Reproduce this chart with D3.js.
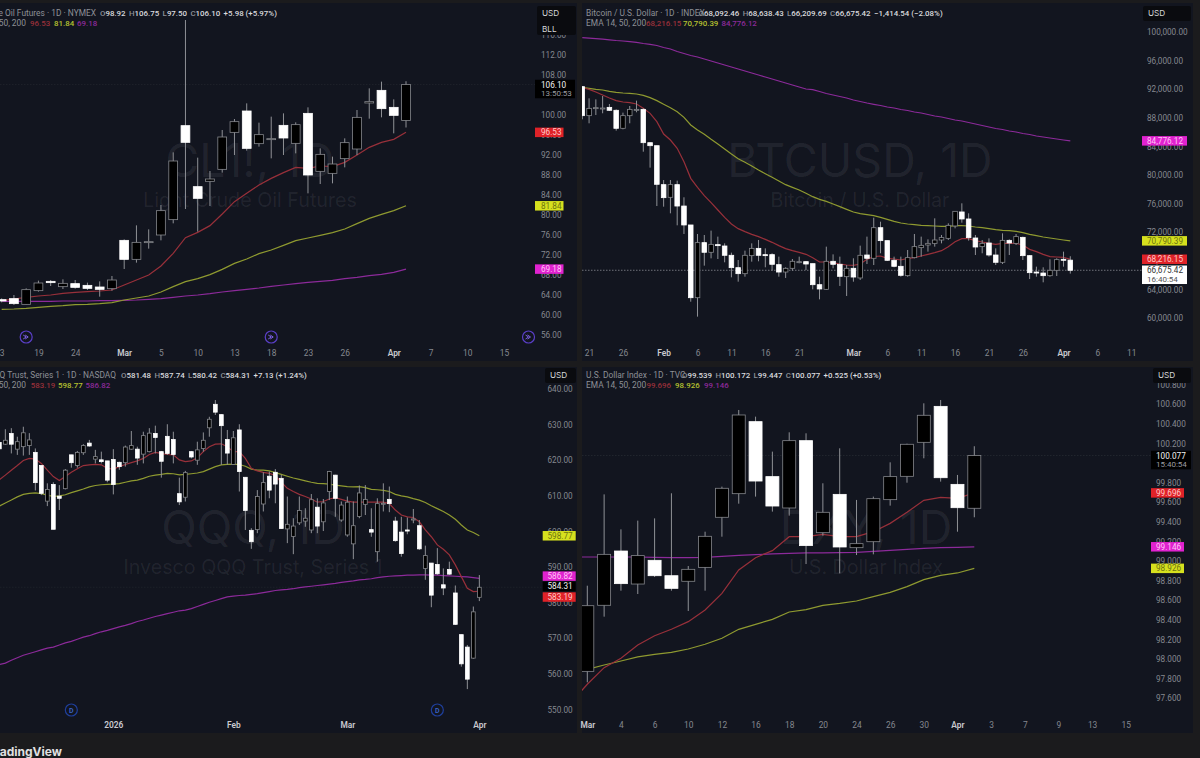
<!DOCTYPE html>
<html>
<head>
<meta charset="utf-8">
<script src="https://cdn.jsdelivr.net/npm/d3@7"></script>
<style>
  html, body { margin: 0; padding: 0; background: #1b1b1d; overflow: hidden; }
  text { font-family: Roboto, "Noto Sans", sans-serif; }
</style>
</head>
<body>
<div id="chart"></div>
<script>
// [open, high, low, close]
const clBars = [[63.07,63.33,62.53,62.80],[63.27,64.00,62.00,62.27],[62.13,65.33,62.13,65.07],[64.87,66.87,64.67,66.40],[66.73,67.00,65.80,66.47],[65.67,67.13,65.20,66.33],[66.27,67.00,65.27,65.53],[65.93,66.47,65.00,65.33],[65.60,66.73,63.67,65.13],[65.27,67.80,64.87,67.00],[74.93,75.13,69.20,71.13],[71.13,77.93,70.47,74.53],[74.53,77.13,73.27,74.67],[76.00,82.00,74.93,80.87],[79.07,92.53,78.33,90.80],[97.87,119.00,81.20,94.53],[85.67,91.47,76.67,83.33],[86.73,88.80,81.80,87.20],[89.13,97.00,88.47,95.60],[96.53,99.20,92.00,98.67],[100.80,102.33,92.87,93.33],[94.27,98.47,93.67,96.07],[95.13,99.67,91.33,95.27],[97.93,100.33,92.00,95.40],[94.33,98.53,92.33,98.07],[100.33,101.53,84.33,88.00],[88.73,93.33,86.20,92.13],[88.33,91.67,86.33,90.20],[91.27,95.33,89.53,94.47],[93.20,101.00,92.00,99.53],[102.40,105.33,99.27,102.67],[104.93,106.67,99.53,101.27],[101.53,103.13,96.33,99.93],[98.92,106.75,97.50,106.10]];
const clEma14 = [62.87,63.20,63.53,63.80,64.00,64.33,64.53,64.67,64.80,65.00,66.00,67.00,68.00,69.80,72.33,75.47,76.53,77.87,80.20,82.67,84.33,86.00,87.33,88.47,89.53,89.33,89.80,89.67,90.53,92.00,93.53,94.53,95.13,96.53];
const clEma50 = [61.13,61.20,61.33,61.53,61.73,61.87,62.07,62.13,62.27,62.47,63.00,63.40,63.80,64.60,65.67,66.67,67.27,68.07,69.13,70.33,71.20,72.27,73.00,73.93,74.87,75.40,75.93,76.47,77.20,78.27,79.33,80.13,80.87,81.84];
const clEma200 = [62.73,62.73,62.73,62.73,62.73,62.80,62.80,62.80,62.87,62.87,62.93,63.00,63.13,63.27,63.53,63.80,64.00,64.27,64.60,64.87,65.13,65.40,65.73,66.00,66.27,66.53,66.73,66.93,67.27,67.53,67.87,68.13,68.53,69.18];
const clTicks = [116,112,108,104,100,96,92,88,84,80,76,72,68,64,60,56];
const clDateIdx = [0,3,6,10,13,16,19,22,25,28,32,35,38,41];
const clDates = ["3","19","24","Mar","5","10","13","18","23","26","Apr","7","10","15"];

const btcBars = [[92355,92450,87790,88300],[88300,90720,87230,89320],[89280,90580,88390,89420],[89280,91050,88630,89370],[89460,89930,88950,89050],[89050,89180,86200,86530],[86530,88720,86390,88300],[88300,89650,87230,89180],[89090,90400,88770,89180],[89180,89320,83260,84520],
[84520,84520,81030,84100],[84100,84100,75660,78700],[78650,79300,75570,76830],[76880,79300,74640,78650],[78650,79210,72960,75660],[75660,76880,71750,73010],[73010,73010,62280,62840],[62840,71750,60190,70540],[70540,71610,67320,69190],[69190,72220,68340,70300],
[70260,71380,68250,70120],[70070,70440,67790,68770],[68770,69140,65690,67040],[67040,68110,65080,66200],[66200,69420,65780,68770],[68720,70440,67880,69740],[69740,70910,67930,68770],[68860,69740,67090,68770],[68860,69050,66620,67510],[67460,68580,65780,66430],
[66430,67090,65600,66950],[66950,68250,66620,67930],[67790,68580,67650,67880],[67880,67970,66710,67550],[67600,67600,64010,64660],[64660,65780,62610,64060],[64010,69980,63920,67930],[67930,68900,66950,67510],[67510,68580,64480,65830],[65780,67410,63080,66950],
[66950,68350,65080,65730],[65600,70120,65320,68770],[68810,71380,67550,68350],[68350,74030,67410,72630],[72630,73470,69050,70820],[70820,70820,67970,68070],[68070,68580,67090,67230],[67230,68580,65780,65970],[65920,69510,65780,68440],[68440,71750,68350,69980],
[69840,71380,68580,70160],[70210,71000,69280,70440],[70440,73940,69980,70910],[70910,71610,70440,71240],[71140,73240,70910,72960],[72870,74920,72540,74920],[74830,76040,73330,73850],[73850,74640,70820,71240],[71190,71610,68810,69930],[69980,70910,69050,70440],
[70490,71140,68580,68810],[68810,69740,67410,67790],[67790,71840,67550,70860],[70860,71000,68810,70490],[70440,71750,70210,71380],[71280,71380,68110,68720],[68720,68810,65450,66340],[66430,67180,65780,66290],[66290,67090,64990,65920],[65920,68210,65780,66670],
[66670,68350,65870,68160],[68210,69280,67180,68070],[68092.46,68638.43,66209.69,66675.42]];
const btcEma14 = [92261,91982,91609,91189,90770,90397,90210,90117,89930,89324,88625,87460,85735,84895,83730,81865,79534,78275,77110,76131,75105,74080,73147,72494,72075,71702,71376,71002,70583,70117,69697,69418,69185,68905,68439,67833,67833,67739,67553,67413,67367,67553,68206,68578,68671,68345,68252,68112,68345,68439,68671,68905,69138,69418,69977,70676,71095,71095,70816,70629,70443,70303,70443,70443,70443,70210,69604,69278,68905,68578,68531,68485,68216];
const btcEma50 = [92261,92122,91982,91888,91702,91562,91469,91422,91329,91142,90816,90397,89884,89418,88858,88066,86993,86294,85688,84989,84336,83637,82937,82285,81772,81259,80700,80187,79674,79161,78648,78275,77902,77436,76970,76597,76317,75944,75571,75198,74826,74592,74452,74313,74080,73800,73520,73287,73147,73054,72961,72914,72868,72821,72821,72914,72914,72868,72728,72634,72494,72355,72261,72215,72122,71936,71702,71516,71329,71190,71050,70910,70790];
const btcEma200 = [99203,99133,99063,98993,98909,98811,98741,98643,98545,98392,98266,98112,97832,97622,97273,96993,96713,96503,96224,95944,95664,95385,95105,94825,94545,94266,93986,93706,93427,93147,92867,92587,92308,92028,91930,91678,91399,91189,90979,90769,90490,90280,90070,89888,89720,89510,89370,89161,89021,88811,88671,88462,88252,88112,87902,87692,87552,87343,87133,86923,86713,86503,86364,86154,86014,85804,85664,85455,85315,85175,85035,84895,84776];
const btcTicks = [100000,96000,92000,88000,84000,80000,76000,72000,68000,64000,60000];
const btcDateIdx = [1,6,12,17,22,27,32,40,45,50,55,60,65,71,76,81];
const btcDates = ["21","26","Feb","6","11","16","21","Mar","6","11","16","21","26","Apr","6","11"];

const qqqBars = [[625.0,626.6,622.9,623.2],[624.5,628.7,624.3,625.6],[627.5,629.0,621.9,624.5],[623.1,626.6,621.5,625.2],[623.8,629.4,621.3,627.7],[624.1,627.6,621.5,625.7],[622.2,623.3,611.5,613.7],[618.5,618.5,610.2,610.7],[608.5,613.5,607.1,611.8],[613.2,613.8,600.6,600.6],
[609.9,613.0,606.0,609.3],[612.0,617.5,611.8,617.2],[621.5,621.5,617.9,619.3],[618.5,622.6,617.9,622.2],[622.1,624.5,621.5,624.1],[624.8,625.7,623.8,624.0],[620.3,622.9,619.1,621.0],[620.1,622.4,619.1,619.6],[619.8,619.8,613.8,614.4],[620.2,623.1,610.4,613.2],
[619.4,619.6,617.3,618.2],[619.3,624.1,618.2,623.7],[623.1,628.2,622.9,624.1],[623.1,623.8,618.7,620.6],[621.7,628.0,619.1,626.9],[622.4,629.0,622.2,627.6],[627.5,629.7,621.9,626.4],[622.4,622.6,615.1,619.7],[626.7,630.1,621.5,621.9],[625.8,628.0,619.1,621.6],
[610.6,615.1,607.4,608.3],[609.6,617.0,608.4,616.5],[622.4,622.6,620.5,620.9],[620.0,625.2,618.7,622.9],[623.3,627.8,622.4,625.6],[629.1,632.2,626.6,631.5],[635.7,636.9,632.7,633.5],[632.8,632.9,618.7,629.7],[625.8,628.5,618.7,622.0],[618.8,628.2,618.7,626.3],
[628.5,630.1,611.2,616.8],[615.2,615.2,600.4,605.9],[600.3,600.9,595.1,597.1],[600.5,611.6,599.5,609.8],[607.7,616.6,605.6,613.7],[615.5,616.8,609.3,611.6],[616.6,617.5,607.9,613.3],[614.9,615.9,600.7,600.8],[600.7,609.8,596.7,602.0],[598.6,603.7,593.6,601.5],
[602.4,609.8,601.8,605.9],[602.9,606.5,601.3,603.7],[600.4,610.5,599.5,608.9],[606.8,609.3,599.5,601.5],[602.7,609.1,600.1,608.0],[611.2,617.0,608.8,616.8],[615.8,615.9,604.1,609.3],[603.2,608.4,602.7,607.4],[599.0,609.8,598.5,608.2],[596.5,608.4,592.2,601.6],
[604.2,612.9,603.7,610.8],[607.6,613.0,604.6,609.0],[600.5,606.5,598.5,599.8],[594.3,609.3,591.5,607.8],[607.7,613.5,605.6,607.9],[609.0,612.6,605.4,607.8],[602.9,604.1,597.1,597.4],[599.8,604.1,592.9,593.8],[600.4,603.9,599.2,600.1],[603.2,606.3,602.3,603.5],
[601.6,603.2,594.8,595.1],[589.6,596.0,586.4,593.2],[591.1,591.1,578.7,582.1],[590.7,595.3,587.8,588.1],[585.0,589.6,582.1,584.1],[589.3,591.5,587.8,588.0],[582.7,584.8,573.7,573.9],[571.0,571.0,562.0,562.8],[567.5,568.1,555.7,558.5],[564.4,578.9,564.2,577.4],
[581.48,587.74,580.42,584.31]];
const qqqEma14 = [614.5,615.8,617.2,618.5,619.9,620.5,620.3,619.1,617.2,615.4,614.3,615.4,616.6,617.6,618.5,618.7,618.8,618.7,617.7,617.5,618.2,618.8,619.3,619.8,620.5,621.6,622.2,621.9,621.6,621.5,620.1,619.6,619.8,620.7,622.4,623.8,624.5,624.6,623.8,622.4,622.4,620.5,617.7,617.0,616.6,616.3,615.7,613.8,612.1,611.2,610.4,609.8,609.1,608.2,608.4,609.1,609.5,609.0,608.5,608.2,608.2,608.2,608.2,608.2,608.2,607.8,606.0,604.6,604.1,603.9,602.7,600.4,598.5,596.2,595.0,593.4,590.6,587.3,584.0,583.1,583.19];
const qqqEma50 = [607.1,608.0,608.8,609.7,610.4,610.7,610.8,610.6,610.2,609.8,610.0,610.3,610.9,611.4,611.9,612.5,612.9,613.1,613.2,613.3,613.4,613.8,614.2,614.4,614.9,615.5,615.8,616.0,616.3,616.2,615.9,616.0,616.2,616.4,616.8,617.5,618.2,618.7,618.8,618.9,618.8,618.3,617.5,617.2,617.2,617.0,616.5,616.0,615.5,615.0,614.6,614.2,613.8,613.5,613.4,613.3,613.0,612.8,612.6,612.5,612.6,612.3,611.8,611.7,611.5,611.2,610.4,610.0,609.7,609.2,608.8,608.1,607.2,606.4,605.6,604.6,603.4,601.8,600.4,599.7,598.77];
const qqqEma200 = [562.6,563.0,563.8,564.5,565.2,565.7,566.2,566.7,567.2,567.5,568.1,568.7,569.1,569.7,570.3,570.7,571.3,571.8,572.2,572.7,573.2,573.6,574.1,574.7,575.1,575.6,576.1,576.5,576.9,577.3,577.7,577.9,578.3,578.9,579.5,580.1,580.6,581.1,581.6,581.8,582.0,582.1,582.3,582.5,582.8,583.1,583.4,583.6,583.7,583.9,584.2,584.4,584.6,584.8,585.0,585.2,585.4,585.7,585.9,586.1,586.4,586.5,586.7,587.0,587.2,587.4,587.5,587.6,587.7,587.7,587.8,587.8,587.7,587.7,587.6,587.5,587.4,587.3,587.2,587.0,586.82];
const qqqTicks = [640,630,620,610,600,590,580,570,560,550];
const qqqDateIdx = [19,39,58,80];
const qqqDates = ["2026","Feb","Mar","Apr"];

const dxyBars = [[97.875,98.749,97.763,98.545],[98.549,99.681,98.433,99.069],[99.103,99.324,98.698,98.770],[98.766,99.413,98.664,99.056],[99.008,99.436,98.838,98.851],[98.851,99.692,98.698,98.722],[98.794,98.950,98.491,98.916],[98.936,99.300,98.698,99.253],[99.447,99.760,99.249,99.743],[99.688,100.542,99.586,100.491],[100.423,100.474,99.658,99.817],[99.862,100.117,99.505,99.562],[99.542,100.314,99.464,100.229],[100.229,100.304,98.970,99.158],[99.290,99.794,99.260,99.498],[99.681,100.151,98.875,99.144],[99.137,99.624,99.062,99.178],[99.198,99.658,99.069,99.637],[99.627,100.008,99.566,99.862],[99.865,100.198,99.800,100.192],[100.212,100.610,100.049,100.488],[100.579,100.644,99.811,99.851],[99.783,99.879,99.300,99.545],[99.539,100.172,99.447,100.077]];
// the dxy averages start one session before the first bar on screen
const dxyEma14 = [97.549,97.743,97.913,98.008,98.144,98.239,98.304,98.382,98.501,98.671,98.909,99.035,99.107,99.249,99.249,99.273,99.249,99.249,99.300,99.385,99.498,99.620,99.651,99.641,99.696];
const dxyEma50 = [97.855,97.896,97.940,97.981,98.022,98.049,98.069,98.103,98.151,98.212,98.304,98.355,98.406,98.481,98.505,98.549,98.569,98.593,98.637,98.681,98.739,98.811,98.855,98.879,98.926];
const dxyEma200 = [99.042,99.042,99.042,99.042,99.042,99.038,99.035,99.035,99.038,99.049,99.059,99.066,99.073,99.079,99.083,99.083,99.086,99.090,99.100,99.110,99.120,99.130,99.137,99.141,99.146];
const dxyTicks = [100.8,100.6,100.4,100.2,100,99.8,99.6,99.4,99.2,99,98.8,98.6,98.4,98.2,98,97.8,97.6];
const dxyDateIdx = [0,2,4,6,8,10,12,14,16,18,20,22,24,26,28,30,32];
const dxyDates = ["Mar","4","6","10","12","16","18","20","24","26","30","Apr","3","7","9","13","15"];

const boldDates = ["Mar","Feb","Apr","2026"];

const RED = "#98303a", YEL = "#8f9a30", MAG = "#8c2a9a";
const TAG_RED = "#df2228", TAG_YEL = "#d6e01e", TAG_MAG = "#e022cf";
const NAME_FONT = "Inter, 'Noto Sans', sans-serif";
const NUM_FONT = "Roboto, 'Noto Sans', sans-serif";

const svg = d3.select("#chart").append("svg")
  .attr("width", 1200).attr("height", 758)
  .style("display", "block");

const defs = svg.append("defs");

function drawPanel(p) {
  const x = d3.scaleLinear().domain([0, p.bars.length - 1]).range(p.xRange);
  const y = d3.scaleLinear().domain(p.yDomain).range(p.yRange);

  svg.append("rect").attr("x", p.box[0]).attr("y", p.box[1])
    .attr("width", p.box[2] - p.box[0]).attr("height", p.box[3] - p.box[1])
    .attr("fill", "#12151f");

  defs.append("clipPath").attr("id", "clip-" + p.id).append("rect")
    .attr("x", p.box[0]).attr("y", p.box[1])
    .attr("width", p.box[2] - p.box[0]).attr("height", p.box[3] - p.box[1]);

  const g = svg.append("g").attr("clip-path", `url(#clip-${p.id})`);

  // watermark
  g.append("text").attr("x", p.markX).attr("y", p.markY).attr("text-anchor", "middle")
    .style("font-family", NAME_FONT)
    .attr("font-size", 46.5).attr("fill", "#ffffff").attr("fill-opacity", 0.07).text(p.mark);
  g.append("text").attr("x", p.markX).attr("y", p.markY + 30).attr("text-anchor", "middle")
    .style("font-family", NAME_FONT)
    .attr("font-size", 19.7).attr("fill", "#ffffff").attr("fill-opacity", 0.07).text(p.markSub);

  // last price line
  g.append("line").attr("x1", p.box[0]).attr("x2", p.lastEnd)
    .attr("y1", y(p.last)).attr("y2", y(p.last))
    .attr("stroke", p.lastColor).attr("stroke-dasharray", "1.5 1.5");

  // averages
  const start = p.emaStart || 0;
  const line = d3.line().x((d, i) => x(i + start)).y(d => y(d));
  [[p.ema200, MAG], [p.ema50, YEL], [p.ema14, RED]].forEach(([vals, col]) => {
    g.append("path").attr("d", line(vals)).attr("fill", "none")
      .attr("stroke", col).attr("stroke-width", 1.2);
  });

  // candles: black closes up, white closes down
  const c = g.selectAll("g.c").data(p.bars).join("g");
  c.append("line")
    .attr("x1", (d, i) => x(i)).attr("x2", (d, i) => x(i))
    .attr("y1", d => y(d[1])).attr("y2", d => y(d[2]))
    .attr("stroke", "#8f9196").attr("stroke-width", 1);
  c.append("rect")
    .attr("x", (d, i) => x(i) - p.bodyW / 2)
    .attr("y", d => y(Math.max(d[0], d[3])))
    .attr("width", p.bodyW)
    .attr("height", d => Math.max(1, Math.abs(y(d[0]) - y(d[3]))))
    .attr("fill", d => d[3] >= d[0] ? "#000" : "#fff")
    .attr("stroke", d => d[3] >= d[0] ? "#85878c" : "#fff")
    .attr("stroke-width", 0.8);

  // price scale
  const yAxis = svg.append("g").attr("transform", `translate(${p.axisX},0)`)
    .call(d3.axisRight(y).tickValues(p.ticks).tickSize(0).tickPadding(0).tickFormat(p.fmt));
  yAxis.select(".domain").remove();
  yAxis.selectAll("text").attr("fill", "#85888f").attr("font-size", 8.2)
    .style("font-family", NUM_FONT);

  // date scale
  const labelOf = d3.scaleOrdinal(p.dateIdx, p.dates);
  const xAxis = svg.append("g").attr("transform", `translate(0,${p.box[3] - 11})`)
    .call(d3.axisBottom(x).tickValues(p.dateIdx).tickSize(0).tickPadding(0).tickFormat(d => labelOf(d)));
  xAxis.select(".domain").remove();
  xAxis.selectAll("text")
    .attr("fill", d => boldDates.includes(labelOf(d)) ? "#c9cad0" : "#85888f")
    .attr("font-weight", d => boldDates.includes(labelOf(d)) ? 600 : 400)
    .attr("font-size", 8.4)
    .style("font-family", NUM_FONT);

  // currency box
  svg.append("rect").attr("x", p.usd[0]).attr("y", p.usd[1]).attr("width", p.usd[2]).attr("height", p.usd[3])
    .attr("rx", 2).attr("fill", "#0a0b0f");
  p.usdLabels.forEach((t, i) => {
    svg.append("text").attr("x", p.usd[0] + 5).attr("y", p.usd[1] + 10.2 + i * 15.5)
      .style("font-family", NAME_FONT)
      .attr("font-size", 8.2).attr("fill", "#d6d7da").text(t);
  });

  // price tags, on top of the scale
  p.tags.forEach(t => {
    const cy = y(t.price) + (t.nudge || 0);
    const h = t.sub ? 18.5 : 9.5;
    svg.append("rect").attr("x", p.tagX).attr("y", cy - 4.75)
      .attr("width", t.w || p.tagW).attr("height", h).attr("fill", t.fill);
    svg.append("text").attr("x", p.axisX).attr("y", cy + 3)
      .attr("font-size", 8.2).attr("fill", t.ink).text(t.label);
    if (t.sub) {
      svg.append("text").attr("x", p.axisX).attr("y", cy + 11.8)
        .attr("font-size", 8).attr("fill", t.subInk).text(t.sub);
    }
  });

  // legend, first line
  const head = svg.append("g");
  const gray = "#8d9096", white = "#d9dade";
  head.append("text").attr("x", p.nameX).attr("y", p.headY)
    .attr("text-anchor", p.nameAnchor).attr("font-size", 8.4).attr("fill", gray).text(p.name);
  const ohlc = head.append("text").attr("x", p.ohlcX).attr("y", p.headY)
    .attr("font-size", 7.9).attr("font-weight", 500);
  p.ohlc.forEach(([k, v], i) => {
    ohlc.append("tspan").attr("dx", i ? 3.4 : 0).attr("fill", gray).text(k);
    ohlc.append("tspan").attr("fill", white).text(v);
  });
  ohlc.append("tspan").attr("dx", 3.4).attr("fill", white).text(p.change);

  // legend, second line
  head.append("text").attr("x", p.emaNameX).attr("y", p.headY + 10)
    .attr("text-anchor", p.nameAnchor).attr("font-size", 8.4).attr("fill", gray).text("EMA 14, 50, 200");
  p.emaHead.forEach(([xPos, v, col]) => {
    head.append("text").attr("x", xPos).attr("y", p.headY + 10)
      .attr("font-size", 7.9).attr("font-weight", 500).attr("fill", col).text(v);
  });

  // event markers
  (p.arrows || []).forEach(i => {
    const m = svg.append("g").attr("transform", `translate(${x(i)},${p.box[3] - 24})`);
    m.append("circle").attr("r", 6).attr("fill", "#12151f").attr("stroke", "#5a3fc8").attr("stroke-width", 1.2);
    m.append("path").attr("d", "M-3,-2 L0,0 L-3,2 M-1,-2 L2,0 L-1,2").attr("fill", "none")
      .attr("stroke", "#7b5fe0").attr("stroke-width", 1);
  });
  (p.divs || []).forEach(i => {
    const m = svg.append("g").attr("transform", `translate(${x(i)},${p.box[3] - 23})`);
    m.append("circle").attr("r", 6).attr("fill", "#12151f").attr("stroke", "#1f3f9c").attr("stroke-width", 1.2);
    m.append("text").attr("text-anchor", "middle").attr("y", 2.6).attr("font-size", 7)
      .attr("font-weight", 600).attr("fill", "#3a63c8").text("D");
  });
}

drawPanel({
  id: "cl", box: [0, 3, 577, 361], bars: clBars, ema14: clEma14, ema50: clEma50, ema200: clEma200,
  xRange: [1.67, 406], yDomain: [112, 56], yRange: [55, 335], bodyW: 8.8,
  ticks: clTicks, fmt: d3.format(".2f"), dateIdx: clDateIdx, dates: clDates,
  axisX: 541, tagX: 535, tagW: 28.5, usd: [537, 6, 39, 29], usdLabels: ["USD", "BLL"],
  mark: "CL1!, 1D", markSub: "Light Crude Oil Futures", markX: 250, markY: 177,
  last: 106.10, lastEnd: 535, lastColor: "#1d2029",
  tags: [
    { price: 106.10, label: "106.10", sub: "13:50:53", fill: "#000", ink: "#f2f2f2", subInk: "#9a9ca0", w: 40 },
    { price: 96.53, label: "96.53", fill: TAG_RED, ink: "#ffc9c9" },
    { price: 81.84, label: "81.84", fill: TAG_YEL, ink: "#6d7310" },
    { price: 69.18, label: "69.18", fill: TAG_MAG, ink: "#ffc5f4" }
  ],
  name: "Light Crude Oil Futures · 1D · NYMEX", nameX: 96, nameAnchor: "end", ohlcX: 100, headY: 16,
  ohlc: [["O", "98.92"], ["H", "106.75"], ["L", "97.50"], ["C", "106.10"]], change: "+5.98 (+5.97%)",
  emaNameX: 26, emaHead: [[30, "96.53", RED], [54, "81.84", "#b5c030"], [77, "69.18", MAG]],
  arrows: [2, 22, 43]
});

drawPanel({
  id: "btc", box: [582, 3, 1193, 361], bars: btcBars, ema14: btcEma14, ema50: btcEma50, ema200: btcEma200,
  xRange: [582.3, 1070.3], yDomain: [100000, 60000], yRange: [32, 318], bodyW: 4.6,
  ticks: btcTicks, fmt: d3.format(",.2f"), dateIdx: btcDateIdx, dates: btcDates,
  axisX: 1147, tagX: 1142, tagW: 45, usd: [1143, 6, 48, 15], usdLabels: ["USD"],
  mark: "BTCUSD, 1D", markSub: "Bitcoin / U.S. Dollar", markX: 860, markY: 177,
  last: 66675.42, lastEnd: 1142, lastColor: "#6f7279",
  tags: [
    { price: 84776.12, label: "84,776.12", fill: TAG_MAG, ink: "#ffc5f4" },
    { price: 70790.39, label: "70,790.39", fill: TAG_YEL, ink: "#6d7310" },
    { price: 68216.15, label: "68,216.15", fill: TAG_RED, ink: "#ffc9c9" },
    { price: 66675.42, label: "66,675.42", sub: "16:40:54", fill: "#fff", ink: "#333", subInk: "#555" }
  ],
  name: "Bitcoin / U.S. Dollar · 1D · INDEX", nameX: 586, nameAnchor: "start", ohlcX: 698.5, headY: 16,
  ohlc: [["O", "68,092.46"], ["H", "68,638.43"], ["L", "66,209.69"], ["C", "66,675.42"]], change: "−1,414.54 (−2.08%)",
  emaNameX: 586, emaHead: [[646, "68,216.15", RED], [683, "70,790.39", "#b5c030"], [721.5, "84,776.12", MAG]]
});

drawPanel({
  id: "qqq", box: [0, 367, 577, 733], bars: qqqBars, ema14: qqqEma14, ema50: qqqEma50, ema200: qqqEma200,
  xRange: [-0.67, 479.33], yDomain: [640, 550], yRange: [389, 709.4], bodyW: 3.8,
  ticks: qqqTicks, fmt: d3.format(".2f"), dateIdx: qqqDateIdx, dates: qqqDates,
  axisX: 547.5, tagX: 542.7, tagW: 33, usd: [545, 368, 31, 15], usdLabels: ["USD"],
  mark: "QQQ, 1D", markSub: "Invesco QQQ Trust, Series 1", markX: 253, markY: 544,
  last: 584.31, lastEnd: 543, lastColor: "#1d2029",
  tags: [
    { price: 598.77, label: "598.77", fill: TAG_YEL, ink: "#6d7310" },
    { price: 586.82, label: "586.82", fill: TAG_MAG, ink: "#ffc5f4", nudge: -2.2 },
    { price: 584.31, label: "584.31", fill: "#000", ink: "#f2f2f2", nudge: -0.8 },
    { price: 583.19, label: "583.19", fill: TAG_RED, ink: "#ffc9c9", nudge: 5.8 }
  ],
  name: "Invesco QQQ Trust, Series 1 · 1D · NASDAQ", nameX: 116, nameAnchor: "end", ohlcX: 121, headY: 378,
  ohlc: [["O", "581.48"], ["H", "587.74"], ["L", "580.42"], ["C", "584.31"]], change: "+7.13 (+1.24%)",
  emaNameX: 26, emaHead: [[30.7, "583.19", RED], [58, "598.77", "#b5c030"], [85.5, "586.82", MAG]],
  divs: [12, 73]
});

drawPanel({
  id: "dxy", box: [582, 367, 1193, 733], bars: dxyBars, ema14: dxyEma14, ema50: dxyEma50, ema200: dxyEma200,
  emaStart: -1,
  xRange: [587.3, 974.3], yDomain: [100.6, 97.6], yRange: [404.3, 698.3], bodyW: 13,
  ticks: dxyTicks, fmt: d3.format(".3f"), dateIdx: dxyDateIdx, dates: dxyDates,
  axisX: 1156, tagX: 1151, tagW: 33, usd: [1153, 368, 38, 15], usdLabels: ["USD"],
  mark: "DXY, 1D", markSub: "U.S. Dollar Index", markX: 866, markY: 544,
  last: 100.077, lastEnd: 1151, lastColor: "#23262f",
  tags: [
    { price: 100.077, label: "100.077", sub: "15:40:54", fill: "#000", ink: "#f2f2f2", subInk: "#9a9ca0", w: 40 },
    { price: 99.696, label: "99.696", fill: TAG_RED, ink: "#ffc9c9" },
    { price: 99.146, label: "99.146", fill: TAG_MAG, ink: "#ffc5f4" },
    { price: 98.926, label: "98.926", fill: TAG_YEL, ink: "#6d7310" }
  ],
  name: "U.S. Dollar Index · 1D · TVC", nameX: 586, nameAnchor: "start", ohlcX: 682, headY: 378,
  ohlc: [["O", "99.539"], ["H", "100.172"], ["L", "99.447"], ["C", "100.077"]], change: "+0.525 (+0.53%)",
  emaNameX: 586, emaHead: [[646.4, "99.696", RED], [675, "98.926", "#b5c030"], [704, "99.146", MAG]]
});

// footer brand, cut by the left edge
svg.append("text").attr("x", 62).attr("y", 756).attr("text-anchor", "end")
  .style("font-family", NAME_FONT)
  .attr("font-size", 12).attr("font-weight", 700).attr("fill", "#e0e0e0").text("TradingView");
</script>
</body>
</html>
